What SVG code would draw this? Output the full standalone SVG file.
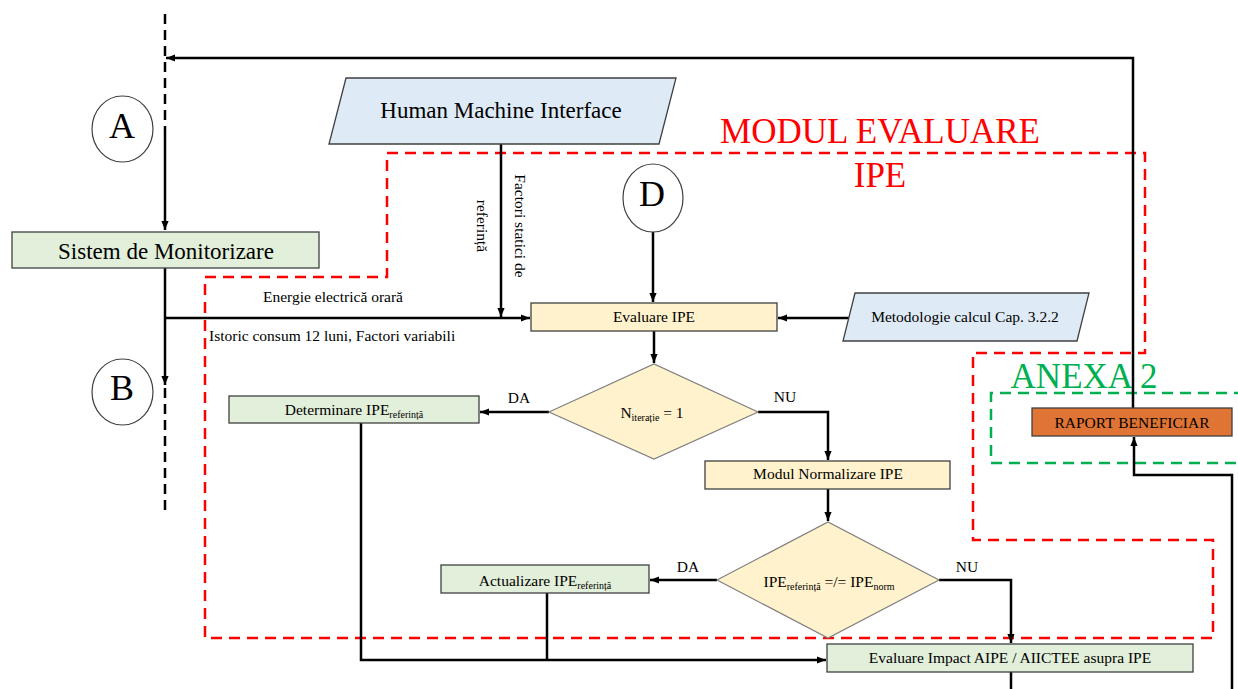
<svg xmlns="http://www.w3.org/2000/svg" width="1238" height="689" viewBox="0 0 1238 689">
<style>
  text { font-family: "Liberation Serif", "Times New Roman", serif; fill: #000; }
  .big { font-size: 23px; }
  .sm { font-size: 15.5px; }
  .sub { font-size: 10px; }
  .letter { font-size: 36px; }
  .conn { fill: none; stroke: #000; stroke-width: 2.5; }
  .dash { fill: none; stroke: #000; stroke-width: 2.5; stroke-dasharray: 10 6; }
  .green { fill: #E2EFDA; stroke: #404040; stroke-width: 1.3; }
  .yellow { fill: #FFF2CC; stroke: #404040; stroke-width: 1.3; }
  .blue { fill: #DEEAF6; stroke: #404040; stroke-width: 1.3; }
  .orange { fill: #DF7434; stroke: #404040; stroke-width: 1.3; }
  .dia { fill: #FFF2CC; stroke: #808080; stroke-width: 1.2; }
  .circ { fill: #fff; stroke: #404040; stroke-width: 1.2; }
  .redbox { fill: none; stroke: #FF0000; stroke-width: 2.5; stroke-dasharray: 11 7; }
  .greenbox { fill: none; stroke: #00B050; stroke-width: 2.5; stroke-dasharray: 11 7; }
</style>
<defs>
  <marker id="arr" viewBox="0 0 10 10" refX="10" refY="5" markerWidth="9" markerHeight="9" markerUnits="userSpaceOnUse" orient="auto">
    <path d="M0,1 L10,5 L0,9 z" fill="#000"/>
  </marker>
</defs>

<g id="modul-evaluare-boundary">
  <path class="redbox" d="M387,153 H1145 V353 H973 V540 H1213 V638 H205 V277 H387 Z"/>
  <text x="880" y="143" text-anchor="middle" style="font-size:35px;fill:#FF0000">MODUL EVALUARE</text>
  <text x="880" y="187" text-anchor="middle" style="font-size:35px;fill:#FF0000">IPE</text>
</g>
<g id="anexa2-boundary">
  <path class="greenbox" d="M1245,393 H991 V463 H1245"/>
  <text x="1084" y="388" text-anchor="middle" style="font-size:35px;fill:#00B050">ANEXA 2</text>
</g>

<g id="connectors">
  <path class="dash" d="M165,14 V130"/>
  <path class="conn" d="M165,130 V230" marker-end="url(#arr)"/>
  <path class="conn" d="M165,268 V385" marker-end="url(#arr)"/>
  <path class="dash" d="M165,388 V512"/>
  <path class="conn" d="M165,318 H530" marker-end="url(#arr)"/>
  <path class="conn" d="M501,144 V317" marker-end="url(#arr)"/>
  <path class="conn" d="M653,232 V302" marker-end="url(#arr)"/>
  <path class="conn" d="M849,318 H778" marker-end="url(#arr)"/>
  <path class="conn" d="M654,331 V363" marker-end="url(#arr)"/>
  <path class="conn" d="M549,412 H480" marker-end="url(#arr)"/>
  <path class="conn" d="M758,412 H828 V460" marker-end="url(#arr)"/>
  <path class="conn" d="M828,489 V521" marker-end="url(#arr)"/>
  <path class="conn" d="M717,580 H650" marker-end="url(#arr)"/>
  <path class="conn" d="M939,580 H1011 V643" marker-end="url(#arr)"/>
  <path class="conn" d="M361,423 V660 H826" marker-end="url(#arr)"/>
  <path class="conn" d="M547,593 V660"/>
  <path class="conn" d="M1011,672 V689"/>
  <path class="conn" d="M1232,689 V475 H1134 V437" marker-end="url(#arr)"/>
  <path class="conn" d="M1133,408 V58 H166" marker-end="url(#arr)"/>
  <text class="sm" x="333" y="302" text-anchor="middle">Energie electrică orară</text>
  <text class="sm" x="209" y="341">Istoric consum 12 luni, Factori variabili</text>
  <text class="sm" transform="translate(515,226) rotate(90)" text-anchor="middle">Factori statici de</text>
  <text class="sm" transform="translate(477,226) rotate(90)" text-anchor="middle">referință</text>
  <text class="sm" x="519" y="403" text-anchor="middle">DA</text>
  <text class="sm" x="785" y="402" text-anchor="middle">NU</text>
  <text class="sm" x="688" y="572" text-anchor="middle">DA</text>
  <text class="sm" x="967" y="572" text-anchor="middle">NU</text>
</g>

<g id="circle-A">
  <ellipse class="circ" cx="122.5" cy="129" rx="30.5" ry="33"/>
  <text class="letter" x="122" y="138" text-anchor="middle">A</text>
</g>
<g id="circle-B">
  <ellipse class="circ" cx="122.5" cy="392" rx="30.5" ry="33"/>
  <text class="letter" x="122" y="400" text-anchor="middle">B</text>
</g>
<g id="circle-D">
  <ellipse class="circ" cx="653" cy="198" rx="30" ry="34"/>
  <text class="letter" x="652" y="206" text-anchor="middle">D</text>
</g>

<g id="hmi">
  <polygon class="blue" points="346,78 676,78 659,144 329,144"/>
  <text class="big" x="501" y="118" text-anchor="middle">Human Machine Interface</text>
</g>
<g id="sistem-monitorizare">
  <rect class="green" x="12" y="232" width="307" height="36"/>
  <text class="big" x="166" y="259" text-anchor="middle">Sistem de Monitorizare</text>
</g>
<g id="evaluare-ipe">
  <rect class="yellow" x="531" y="303" width="246" height="28"/>
  <text class="sm" x="654" y="322" text-anchor="middle">Evaluare IPE</text>
</g>
<g id="metodologie">
  <polygon class="blue" points="855,293 1089,293 1077,341 843,341"/>
  <text class="sm" x="965" y="322" text-anchor="middle">Metodologie calcul Cap. 3.2.2</text>
</g>
<g id="decizie-iteratie">
  <polygon class="dia" points="549,412 654,364 758,412 654,459"/>
  <text class="sm" x="652" y="418" text-anchor="middle">N<tspan class="sub" dy="3">iterație</tspan><tspan dy="-3"> = 1</tspan></text>
</g>
<g id="determinare-ipe">
  <rect class="green" x="229" y="396" width="250" height="27"/>
  <text class="sm" x="354" y="415" text-anchor="middle">Determinare IPE<tspan class="sub" dy="3">referință</tspan></text>
</g>
<g id="modul-normalizare">
  <rect class="yellow" x="705" y="461" width="245" height="28"/>
  <text class="sm" x="828" y="479" text-anchor="middle">Modul Normalizare IPE</text>
</g>
<g id="decizie-ipe">
  <polygon class="dia" points="717,580 828,522 939,580 828,638"/>
  <text class="sm" x="829" y="587" text-anchor="middle">IPE<tspan class="sub" dy="3">referință</tspan><tspan dy="-3"> =/= IPE</tspan><tspan class="sub" dy="3">norm</tspan></text>
</g>
<g id="actualizare-ipe">
  <rect class="green" x="441" y="565" width="208" height="28"/>
  <text class="sm" x="545" y="586" text-anchor="middle">Actualizare IPE<tspan class="sub" dy="3">referință</tspan></text>
</g>
<g id="evaluare-impact">
  <rect class="green" x="827" y="644" width="366" height="28"/>
  <text class="sm" x="1010" y="663" text-anchor="middle">Evaluare Impact AIPE / AIICTEE asupra IPE</text>
</g>
<g id="raport-beneficiar">
  <rect class="orange" x="1032" y="408" width="200" height="28"/>
  <text class="sm" x="1132" y="428" text-anchor="middle">RAPORT BENEFICIAR</text>
</g>
</svg>
